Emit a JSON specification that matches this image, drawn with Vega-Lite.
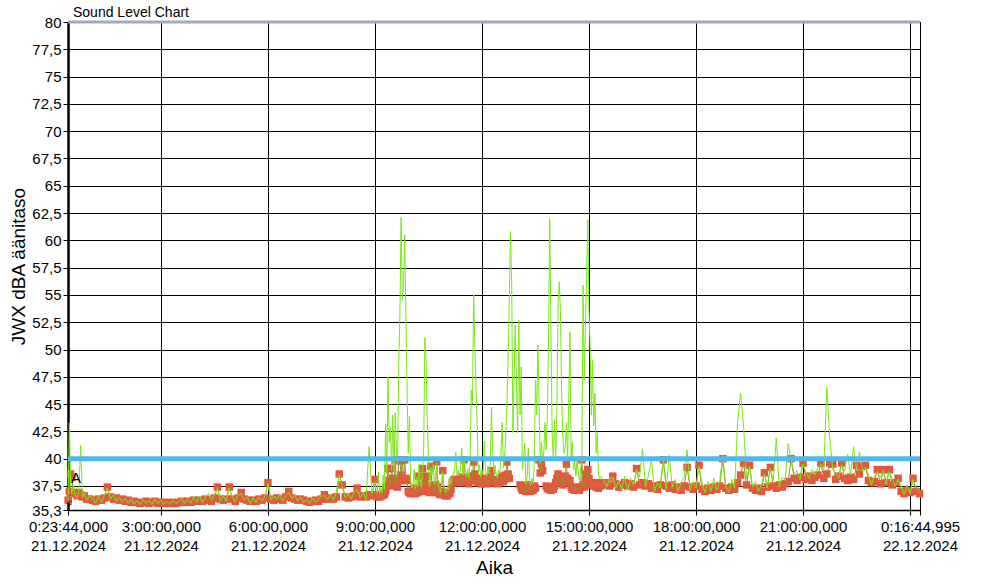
{
  "$schema": "https://vega.github.io/schema/vega-lite/v6.json",
  "width": 852,
  "height": 488,
  "autosize": {"type": "none"},
  "padding": {"left": 68, "top": 22, "right": 70, "bottom": 78},
  "background": "#ffffff",
  "title": {"text": "Sound Level Chart", "anchor": "start", "frame": "group", "dx": 5, "dy": 9, "offset": 4, "fontSize": 14, "font": "Liberation Sans", "fontWeight": "normal", "color": "#000"},
  "datasets": {
    "lv": [
      {"t":"2024-12-21T00:24","a":36.2,"m":36.2},
      {"t":"2024-12-21T00:26","a":37.0,"m":43.3},
      {"t":"2024-12-21T00:28","a":38.6,"m":38.0},
      {"t":"2024-12-21T00:30","a":38.3,"m":36.8},
      {"t":"2024-12-21T00:33","a":36.9,"m":37.6},
      {"t":"2024-12-21T00:36","a":36.8,"m":36.5},
      {"t":"2024-12-21T00:39","a":36.6,"m":36.4},
      {"t":"2024-12-21T00:42","a":36.9,"m":37.0},
      {"t":"2024-12-21T00:45","a":36.7,"m":41.2},
      {"t":"2024-12-21T00:48","a":36.5,"m":36.4},
      {"t":"2024-12-21T00:51","a":36.6,"m":36.9},
      {"t":"2024-12-21T00:55","a":36.3,"m":36.2},
      {"t":"2024-12-21T01:00","a":36.3,"m":36.6},
      {"t":"2024-12-21T01:05","a":36.2,"m":36.4},
      {"t":"2024-12-21T01:10","a":36.1,"m":35.9},
      {"t":"2024-12-21T01:15","a":36.3,"m":36.6},
      {"t":"2024-12-21T01:20","a":36.2,"m":36.0},
      {"t":"2024-12-21T01:25","a":36.4,"m":36.7},
      {"t":"2024-12-21T01:30","a":37.4,"m":37.3},
      {"t":"2024-12-21T01:35","a":36.5,"m":36.3},
      {"t":"2024-12-21T01:40","a":36.3,"m":36.7},
      {"t":"2024-12-21T01:45","a":36.4,"m":36.1},
      {"t":"2024-12-21T01:50","a":36.2,"m":36.5},
      {"t":"2024-12-21T01:55","a":36.3,"m":36.0},
      {"t":"2024-12-21T02:00","a":36.1,"m":36.4},
      {"t":"2024-12-21T02:05","a":36.2,"m":35.9},
      {"t":"2024-12-21T02:10","a":36.0,"m":36.3},
      {"t":"2024-12-21T02:15","a":36.1,"m":35.8},
      {"t":"2024-12-21T02:20","a":36.0,"m":36.2},
      {"t":"2024-12-21T02:25","a":35.9,"m":35.8},
      {"t":"2024-12-21T02:30","a":36.0,"m":36.3},
      {"t":"2024-12-21T02:35","a":36.1,"m":35.9},
      {"t":"2024-12-21T02:40","a":35.9,"m":36.2},
      {"t":"2024-12-21T02:45","a":36.0,"m":35.8},
      {"t":"2024-12-21T02:50","a":36.1,"m":36.3},
      {"t":"2024-12-21T02:55","a":35.9,"m":35.9},
      {"t":"2024-12-21T03:00","a":36.0,"m":36.2},
      {"t":"2024-12-21T03:05","a":35.9,"m":35.8},
      {"t":"2024-12-21T03:10","a":36.0,"m":36.1},
      {"t":"2024-12-21T03:15","a":35.9,"m":35.8},
      {"t":"2024-12-21T03:20","a":36.0,"m":36.2},
      {"t":"2024-12-21T03:25","a":35.9,"m":35.9},
      {"t":"2024-12-21T03:30","a":36.0,"m":36.1},
      {"t":"2024-12-21T03:35","a":36.1,"m":36.4},
      {"t":"2024-12-21T03:40","a":36.0,"m":35.9},
      {"t":"2024-12-21T03:45","a":36.1,"m":36.3},
      {"t":"2024-12-21T03:50","a":36.0,"m":35.9},
      {"t":"2024-12-21T03:55","a":36.2,"m":36.5},
      {"t":"2024-12-21T04:00","a":36.1,"m":36.0},
      {"t":"2024-12-21T04:05","a":36.2,"m":36.6},
      {"t":"2024-12-21T04:10","a":36.1,"m":36.0},
      {"t":"2024-12-21T04:15","a":36.3,"m":36.5},
      {"t":"2024-12-21T04:20","a":36.2,"m":36.8},
      {"t":"2024-12-21T04:25","a":36.1,"m":36.2},
      {"t":"2024-12-21T04:30","a":36.4,"m":36.7},
      {"t":"2024-12-21T04:35","a":37.4,"m":37.3},
      {"t":"2024-12-21T04:40","a":36.3,"m":36.1},
      {"t":"2024-12-21T04:45","a":36.2,"m":36.6},
      {"t":"2024-12-21T04:50","a":36.3,"m":36.1},
      {"t":"2024-12-21T04:55","a":37.4,"m":37.3},
      {"t":"2024-12-21T05:00","a":36.3,"m":36.5},
      {"t":"2024-12-21T05:05","a":36.1,"m":36.0},
      {"t":"2024-12-21T05:10","a":36.4,"m":36.7},
      {"t":"2024-12-21T05:15","a":36.9,"m":36.8},
      {"t":"2024-12-21T05:20","a":36.3,"m":36.2},
      {"t":"2024-12-21T05:25","a":36.2,"m":36.5},
      {"t":"2024-12-21T05:30","a":36.1,"m":35.9},
      {"t":"2024-12-21T05:35","a":36.2,"m":36.4},
      {"t":"2024-12-21T05:40","a":36.1,"m":36.0},
      {"t":"2024-12-21T05:45","a":36.3,"m":36.5},
      {"t":"2024-12-21T05:50","a":36.2,"m":36.1},
      {"t":"2024-12-21T05:55","a":36.4,"m":36.6},
      {"t":"2024-12-21T06:00","a":37.8,"m":37.7},
      {"t":"2024-12-21T06:05","a":36.3,"m":36.2},
      {"t":"2024-12-21T06:10","a":36.2,"m":36.6},
      {"t":"2024-12-21T06:15","a":36.4,"m":36.3},
      {"t":"2024-12-21T06:20","a":36.3,"m":36.7},
      {"t":"2024-12-21T06:25","a":36.2,"m":36.1},
      {"t":"2024-12-21T06:30","a":36.5,"m":36.6},
      {"t":"2024-12-21T06:35","a":37.0,"m":36.9},
      {"t":"2024-12-21T06:40","a":36.4,"m":36.3},
      {"t":"2024-12-21T06:45","a":36.3,"m":36.7},
      {"t":"2024-12-21T06:50","a":36.2,"m":36.1},
      {"t":"2024-12-21T06:55","a":36.3,"m":36.5},
      {"t":"2024-12-21T07:00","a":36.2,"m":36.0},
      {"t":"2024-12-21T07:05","a":36.1,"m":36.3},
      {"t":"2024-12-21T07:10","a":36.0,"m":35.9},
      {"t":"2024-12-21T07:15","a":36.1,"m":36.4},
      {"t":"2024-12-21T07:20","a":36.2,"m":36.0},
      {"t":"2024-12-21T07:25","a":36.1,"m":36.3},
      {"t":"2024-12-21T07:30","a":36.3,"m":36.6},
      {"t":"2024-12-21T07:35","a":36.7,"m":36.6},
      {"t":"2024-12-21T07:40","a":36.3,"m":36.2},
      {"t":"2024-12-21T07:45","a":36.4,"m":36.8},
      {"t":"2024-12-21T07:50","a":36.3,"m":36.2},
      {"t":"2024-12-21T07:55","a":36.5,"m":36.9},
      {"t":"2024-12-21T08:00","a":38.6,"m":38.5},
      {"t":"2024-12-21T08:05","a":37.6,"m":37.4},
      {"t":"2024-12-21T08:10","a":36.5,"m":36.4},
      {"t":"2024-12-21T08:15","a":36.4,"m":36.8},
      {"t":"2024-12-21T08:20","a":36.5,"m":36.3},
      {"t":"2024-12-21T08:25","a":36.6,"m":36.9},
      {"t":"2024-12-21T08:30","a":37.3,"m":37.2},
      {"t":"2024-12-21T08:35","a":36.5,"m":36.4},
      {"t":"2024-12-21T08:40","a":36.6,"m":36.9},
      {"t":"2024-12-21T08:45","a":36.5,"m":36.3},
      {"t":"2024-12-21T08:50","a":36.7,"m":41.1},
      {"t":"2024-12-21T08:55","a":36.6,"m":36.8},
      {"t":"2024-12-21T09:00","a":38.1,"m":37.9},
      {"t":"2024-12-21T09:02","a":36.7,"m":37.0},
      {"t":"2024-12-21T09:04","a":36.5,"m":36.9},
      {"t":"2024-12-21T09:06","a":36.6,"m":38.8},
      {"t":"2024-12-21T09:08","a":36.5,"m":36.8},
      {"t":"2024-12-21T09:10","a":36.7,"m":37.3},
      {"t":"2024-12-21T09:12","a":36.6,"m":36.9},
      {"t":"2024-12-21T09:14","a":36.8,"m":38.5},
      {"t":"2024-12-21T09:16","a":36.7,"m":37.2},
      {"t":"2024-12-21T09:18","a":37.0,"m":43.2},
      {"t":"2024-12-21T09:20","a":37.5,"m":38.6},
      {"t":"2024-12-21T09:22","a":39.1,"m":47.5},
      {"t":"2024-12-21T09:24","a":38.0,"m":41.5},
      {"t":"2024-12-21T09:26","a":37.6,"m":42.9},
      {"t":"2024-12-21T09:28","a":39.1,"m":39.0},
      {"t":"2024-12-21T09:30","a":38.2,"m":44.0},
      {"t":"2024-12-21T09:32","a":37.5,"m":38.8},
      {"t":"2024-12-21T09:34","a":39.9,"m":44.2},
      {"t":"2024-12-21T09:36","a":38.0,"m":41.0},
      {"t":"2024-12-21T09:38","a":37.4,"m":39.5},
      {"t":"2024-12-21T09:40","a":39.9,"m":48.5},
      {"t":"2024-12-21T09:42","a":39.8,"m":53.3},
      {"t":"2024-12-21T09:44","a":38.5,"m":62.1},
      {"t":"2024-12-21T09:46","a":39.9,"m":54.5},
      {"t":"2024-12-21T09:48","a":38.0,"m":55.9},
      {"t":"2024-12-21T09:50","a":39.9,"m":60.5},
      {"t":"2024-12-21T09:52","a":38.2,"m":53.2},
      {"t":"2024-12-21T09:54","a":38.0,"m":46.6},
      {"t":"2024-12-21T09:56","a":37.0,"m":40.5},
      {"t":"2024-12-21T09:58","a":36.9,"m":43.9},
      {"t":"2024-12-21T10:00","a":36.8,"m":38.0},
      {"t":"2024-12-21T10:02","a":37.0,"m":37.3},
      {"t":"2024-12-21T10:04","a":36.9,"m":37.6},
      {"t":"2024-12-21T10:06","a":37.3,"m":39.0},
      {"t":"2024-12-21T10:08","a":36.8,"m":37.2},
      {"t":"2024-12-21T10:10","a":37.2,"m":38.3},
      {"t":"2024-12-21T10:12","a":36.9,"m":37.4},
      {"t":"2024-12-21T10:14","a":38.4,"m":39.5},
      {"t":"2024-12-21T10:16","a":37.1,"m":38.0},
      {"t":"2024-12-21T10:18","a":37.0,"m":37.4},
      {"t":"2024-12-21T10:20","a":39.1,"m":39.0},
      {"t":"2024-12-21T10:22","a":37.5,"m":41.0},
      {"t":"2024-12-21T10:24","a":37.8,"m":51.1},
      {"t":"2024-12-21T10:26","a":38.4,"m":49.0},
      {"t":"2024-12-21T10:28","a":37.2,"m":43.5},
      {"t":"2024-12-21T10:30","a":37.0,"m":40.2},
      {"t":"2024-12-21T10:32","a":36.9,"m":37.4},
      {"t":"2024-12-21T10:34","a":39.3,"m":39.2},
      {"t":"2024-12-21T10:36","a":37.5,"m":38.5},
      {"t":"2024-12-21T10:38","a":37.1,"m":39.5},
      {"t":"2024-12-21T10:40","a":36.9,"m":37.6},
      {"t":"2024-12-21T10:42","a":37.6,"m":38.2},
      {"t":"2024-12-21T10:44","a":39.7,"m":39.6},
      {"t":"2024-12-21T10:46","a":37.4,"m":37.9},
      {"t":"2024-12-21T10:48","a":36.8,"m":37.2},
      {"t":"2024-12-21T10:50","a":36.7,"m":36.9},
      {"t":"2024-12-21T10:52","a":37.0,"m":37.6},
      {"t":"2024-12-21T10:54","a":38.9,"m":38.8},
      {"t":"2024-12-21T10:56","a":36.8,"m":37.3},
      {"t":"2024-12-21T10:58","a":36.6,"m":37.0},
      {"t":"2024-12-21T11:00","a":36.7,"m":36.9},
      {"t":"2024-12-21T11:02","a":36.6,"m":37.3},
      {"t":"2024-12-21T11:04","a":36.9,"m":37.1},
      {"t":"2024-12-21T11:06","a":36.8,"m":38.3},
      {"t":"2024-12-21T11:08","a":37.2,"m":37.6},
      {"t":"2024-12-21T11:10","a":37.8,"m":38.4},
      {"t":"2024-12-21T11:12","a":38.0,"m":38.6},
      {"t":"2024-12-21T11:14","a":38.1,"m":39.2},
      {"t":"2024-12-21T11:16","a":37.9,"m":40.6},
      {"t":"2024-12-21T11:18","a":38.0,"m":38.5},
      {"t":"2024-12-21T11:20","a":37.8,"m":38.9},
      {"t":"2024-12-21T11:22","a":38.1,"m":38.4},
      {"t":"2024-12-21T11:24","a":37.9,"m":39.0},
      {"t":"2024-12-21T11:26","a":38.3,"m":41.0},
      {"t":"2024-12-21T11:28","a":37.8,"m":38.5},
      {"t":"2024-12-21T11:30","a":39.9,"m":39.8},
      {"t":"2024-12-21T11:32","a":38.2,"m":38.9},
      {"t":"2024-12-21T11:34","a":37.9,"m":38.3},
      {"t":"2024-12-21T11:36","a":38.0,"m":39.1},
      {"t":"2024-12-21T11:38","a":37.7,"m":38.2},
      {"t":"2024-12-21T11:40","a":38.3,"m":39.5},
      {"t":"2024-12-21T11:42","a":38.0,"m":46.3},
      {"t":"2024-12-21T11:44","a":38.4,"m":45.0},
      {"t":"2024-12-21T11:46","a":39.7,"m":55.0},
      {"t":"2024-12-21T11:48","a":38.6,"m":50.2},
      {"t":"2024-12-21T11:50","a":38.1,"m":46.5},
      {"t":"2024-12-21T11:52","a":37.9,"m":43.0},
      {"t":"2024-12-21T11:54","a":37.8,"m":38.6},
      {"t":"2024-12-21T11:56","a":38.2,"m":39.4},
      {"t":"2024-12-21T11:58","a":37.7,"m":38.3},
      {"t":"2024-12-21T12:00","a":38.0,"m":39.0},
      {"t":"2024-12-21T12:02","a":37.8,"m":38.5},
      {"t":"2024-12-21T12:04","a":38.2,"m":41.6},
      {"t":"2024-12-21T12:06","a":37.9,"m":38.8},
      {"t":"2024-12-21T12:08","a":37.7,"m":38.4},
      {"t":"2024-12-21T12:10","a":38.1,"m":39.3},
      {"t":"2024-12-21T12:12","a":37.8,"m":38.6},
      {"t":"2024-12-21T12:14","a":38.3,"m":39.6},
      {"t":"2024-12-21T12:16","a":38.9,"m":44.7},
      {"t":"2024-12-21T12:18","a":38.0,"m":40.8},
      {"t":"2024-12-21T12:20","a":37.8,"m":38.7},
      {"t":"2024-12-21T12:22","a":38.1,"m":39.4},
      {"t":"2024-12-21T12:24","a":37.9,"m":38.5},
      {"t":"2024-12-21T12:26","a":37.7,"m":38.2},
      {"t":"2024-12-21T12:28","a":38.0,"m":39.0},
      {"t":"2024-12-21T12:30","a":37.8,"m":38.6},
      {"t":"2024-12-21T12:32","a":38.2,"m":40.5},
      {"t":"2024-12-21T12:34","a":38.4,"m":43.3},
      {"t":"2024-12-21T12:36","a":37.9,"m":39.2},
      {"t":"2024-12-21T12:38","a":38.1,"m":40.2},
      {"t":"2024-12-21T12:40","a":38.5,"m":42.0},
      {"t":"2024-12-21T12:42","a":39.7,"m":45.0},
      {"t":"2024-12-21T12:44","a":38.6,"m":49.2},
      {"t":"2024-12-21T12:46","a":38.2,"m":55.0},
      {"t":"2024-12-21T12:48","a":null,"m":60.8},
      {"t":"2024-12-21T12:50","a":null,"m":56.1},
      {"t":"2024-12-21T12:52","a":null,"m":42.4},
      {"t":"2024-12-21T12:54","a":null,"m":47.5},
      {"t":"2024-12-21T12:56","a":null,"m":52.2},
      {"t":"2024-12-21T12:58","a":null,"m":47.0},
      {"t":"2024-12-21T13:00","a":null,"m":42.4},
      {"t":"2024-12-21T13:02","a":null,"m":52.7},
      {"t":"2024-12-21T13:04","a":37.6,"m":44.0},
      {"t":"2024-12-21T13:06","a":37.3,"m":48.4},
      {"t":"2024-12-21T13:08","a":37.1,"m":39.0},
      {"t":"2024-12-21T13:10","a":37.5,"m":40.0},
      {"t":"2024-12-21T13:12","a":37.2,"m":41.4},
      {"t":"2024-12-21T13:14","a":37.0,"m":37.6},
      {"t":"2024-12-21T13:16","a":37.4,"m":38.4},
      {"t":"2024-12-21T13:18","a":37.6,"m":41.0},
      {"t":"2024-12-21T13:20","a":37.2,"m":37.9},
      {"t":"2024-12-21T13:22","a":37.0,"m":37.5},
      {"t":"2024-12-21T13:24","a":37.3,"m":38.2},
      {"t":"2024-12-21T13:26","a":37.1,"m":37.7},
      {"t":"2024-12-21T13:28","a":37.5,"m":39.5},
      {"t":"2024-12-21T13:30","a":37.3,"m":47.2},
      {"t":"2024-12-21T13:32","a":null,"m":44.0},
      {"t":"2024-12-21T13:34","a":null,"m":50.4},
      {"t":"2024-12-21T13:36","a":39.9,"m":45.3},
      {"t":"2024-12-21T13:38","a":38.7,"m":39.5},
      {"t":"2024-12-21T13:40","a":39.5,"m":41.5},
      {"t":"2024-12-21T13:42","a":38.9,"m":39.8},
      {"t":"2024-12-21T13:44","a":null,"m":40.6},
      {"t":"2024-12-21T13:46","a":null,"m":43.3},
      {"t":"2024-12-21T13:48","a":37.5,"m":40.8},
      {"t":"2024-12-21T13:50","a":37.3,"m":44.2},
      {"t":"2024-12-21T13:52","a":37.2,"m":50.7},
      {"t":"2024-12-21T13:54","a":37.4,"m":62.0},
      {"t":"2024-12-21T13:56","a":37.1,"m":51.8},
      {"t":"2024-12-21T13:58","a":37.3,"m":42.4},
      {"t":"2024-12-21T14:00","a":37.2,"m":40.0},
      {"t":"2024-12-21T14:02","a":37.5,"m":43.5},
      {"t":"2024-12-21T14:04","a":37.8,"m":39.8},
      {"t":"2024-12-21T14:06","a":38.2,"m":44.7},
      {"t":"2024-12-21T14:08","a":38.6,"m":54.3},
      {"t":"2024-12-21T14:10","a":38.0,"m":56.2},
      {"t":"2024-12-21T14:12","a":37.8,"m":53.5},
      {"t":"2024-12-21T14:14","a":38.3,"m":46.0},
      {"t":"2024-12-21T14:16","a":37.6,"m":42.0},
      {"t":"2024-12-21T14:18","a":38.1,"m":40.5},
      {"t":"2024-12-21T14:20","a":38.4,"m":41.0},
      {"t":"2024-12-21T14:22","a":39.5,"m":43.3},
      {"t":"2024-12-21T14:24","a":38.2,"m":40.0},
      {"t":"2024-12-21T14:26","a":37.8,"m":45.4},
      {"t":"2024-12-21T14:28","a":38.0,"m":51.6},
      {"t":"2024-12-21T14:30","a":37.4,"m":40.0},
      {"t":"2024-12-21T14:32","a":37.2,"m":41.5},
      {"t":"2024-12-21T14:34","a":37.3,"m":39.0},
      {"t":"2024-12-21T14:36","a":37.1,"m":39.8},
      {"t":"2024-12-21T14:38","a":37.4,"m":38.4},
      {"t":"2024-12-21T14:40","a":37.2,"m":40.0},
      {"t":"2024-12-21T14:42","a":37.3,"m":38.6},
      {"t":"2024-12-21T14:44","a":37.1,"m":38.0},
      {"t":"2024-12-21T14:46","a":37.4,"m":39.0},
      {"t":"2024-12-21T14:48","a":39.9,"m":40.0},
      {"t":"2024-12-21T14:50","a":37.6,"m":55.9},
      {"t":"2024-12-21T14:52","a":37.4,"m":47.2},
      {"t":"2024-12-21T14:54","a":38.0,"m":52.0},
      {"t":"2024-12-21T14:56","a":38.6,"m":56.6},
      {"t":"2024-12-21T14:58","a":39.0,"m":61.9},
      {"t":"2024-12-21T15:00","a":38.2,"m":53.7},
      {"t":"2024-12-21T15:02","a":37.8,"m":50.0},
      {"t":"2024-12-21T15:04","a":37.6,"m":44.0},
      {"t":"2024-12-21T15:06","a":37.8,"m":49.0},
      {"t":"2024-12-21T15:08","a":37.5,"m":43.0},
      {"t":"2024-12-21T15:10","a":37.7,"m":46.0},
      {"t":"2024-12-21T15:12","a":37.4,"m":40.5},
      {"t":"2024-12-21T15:14","a":37.6,"m":42.4},
      {"t":"2024-12-21T15:16","a":37.3,"m":38.6},
      {"t":"2024-12-21T15:18","a":37.8,"m":38.2},
      {"t":"2024-12-21T15:20","a":37.5,"m":38.4},
      {"t":"2024-12-21T15:25","a":37.6,"m":38.0},
      {"t":"2024-12-21T15:30","a":37.8,"m":37.4},
      {"t":"2024-12-21T15:35","a":37.5,"m":38.2},
      {"t":"2024-12-21T15:40","a":38.4,"m":38.3},
      {"t":"2024-12-21T15:45","a":37.7,"m":37.3},
      {"t":"2024-12-21T15:50","a":37.4,"m":38.0},
      {"t":"2024-12-21T15:55","a":37.6,"m":37.2},
      {"t":"2024-12-21T16:00","a":37.8,"m":38.4},
      {"t":"2024-12-21T16:05","a":37.5,"m":37.1},
      {"t":"2024-12-21T16:10","a":37.7,"m":38.2},
      {"t":"2024-12-21T16:15","a":37.4,"m":37.6},
      {"t":"2024-12-21T16:20","a":39.1,"m":39.0},
      {"t":"2024-12-21T16:25","a":37.6,"m":38.3},
      {"t":"2024-12-21T16:30","a":37.8,"m":40.9},
      {"t":"2024-12-21T16:35","a":37.5,"m":37.4},
      {"t":"2024-12-21T16:40","a":37.7,"m":38.5},
      {"t":"2024-12-21T16:45","a":37.3,"m":39.9},
      {"t":"2024-12-21T16:50","a":37.5,"m":37.0},
      {"t":"2024-12-21T16:55","a":37.2,"m":37.8},
      {"t":"2024-12-21T17:00","a":37.6,"m":37.3},
      {"t":"2024-12-21T17:05","a":39.9,"m":39.8},
      {"t":"2024-12-21T17:10","a":37.5,"m":37.2},
      {"t":"2024-12-21T17:15","a":37.3,"m":40.3},
      {"t":"2024-12-21T17:20","a":37.6,"m":37.4},
      {"t":"2024-12-21T17:25","a":37.2,"m":38.1},
      {"t":"2024-12-21T17:30","a":37.4,"m":37.0},
      {"t":"2024-12-21T17:35","a":37.1,"m":37.8},
      {"t":"2024-12-21T17:40","a":37.5,"m":38.3},
      {"t":"2024-12-21T17:45","a":39.2,"m":40.8},
      {"t":"2024-12-21T17:50","a":37.4,"m":37.1},
      {"t":"2024-12-21T17:55","a":37.2,"m":37.9},
      {"t":"2024-12-21T18:00","a":37.5,"m":37.3},
      {"t":"2024-12-21T18:05","a":39.4,"m":39.3},
      {"t":"2024-12-21T18:10","a":37.2,"m":37.8},
      {"t":"2024-12-21T18:15","a":37.0,"m":36.9},
      {"t":"2024-12-21T18:20","a":37.3,"m":37.9},
      {"t":"2024-12-21T18:25","a":37.1,"m":37.0},
      {"t":"2024-12-21T18:30","a":37.4,"m":38.2},
      {"t":"2024-12-21T18:35","a":37.2,"m":37.1},
      {"t":"2024-12-21T18:40","a":37.5,"m":38.0},
      {"t":"2024-12-21T18:45","a":40.0,"m":40.3},
      {"t":"2024-12-21T18:50","a":37.3,"m":37.5},
      {"t":"2024-12-21T18:55","a":37.1,"m":36.9},
      {"t":"2024-12-21T19:00","a":37.4,"m":38.1},
      {"t":"2024-12-21T19:05","a":37.2,"m":37.3},
      {"t":"2024-12-21T19:10","a":37.8,"m":43.4},
      {"t":"2024-12-21T19:15","a":38.5,"m":46.0},
      {"t":"2024-12-21T19:20","a":39.6,"m":43.0},
      {"t":"2024-12-21T19:25","a":37.6,"m":38.2},
      {"t":"2024-12-21T19:30","a":39.4,"m":39.3},
      {"t":"2024-12-21T19:35","a":37.3,"m":37.4},
      {"t":"2024-12-21T19:40","a":37.1,"m":37.9},
      {"t":"2024-12-21T19:45","a":37.3,"m":37.0},
      {"t":"2024-12-21T19:50","a":37.0,"m":37.6},
      {"t":"2024-12-21T19:55","a":38.7,"m":38.6},
      {"t":"2024-12-21T20:00","a":37.4,"m":37.3},
      {"t":"2024-12-21T20:05","a":39.2,"m":39.1},
      {"t":"2024-12-21T20:10","a":37.5,"m":38.0},
      {"t":"2024-12-21T20:15","a":37.3,"m":41.9},
      {"t":"2024-12-21T20:20","a":37.6,"m":37.4},
      {"t":"2024-12-21T20:25","a":37.4,"m":38.3},
      {"t":"2024-12-21T20:30","a":37.7,"m":38.0},
      {"t":"2024-12-21T20:35","a":37.9,"m":41.4},
      {"t":"2024-12-21T20:40","a":40.0,"m":39.9},
      {"t":"2024-12-21T20:45","a":38.2,"m":38.6},
      {"t":"2024-12-21T20:50","a":38.0,"m":38.9},
      {"t":"2024-12-21T20:55","a":38.3,"m":38.1},
      {"t":"2024-12-21T21:00","a":39.6,"m":39.5},
      {"t":"2024-12-21T21:05","a":38.1,"m":38.8},
      {"t":"2024-12-21T21:10","a":38.4,"m":38.2},
      {"t":"2024-12-21T21:15","a":38.0,"m":39.0},
      {"t":"2024-12-21T21:20","a":38.3,"m":38.5},
      {"t":"2024-12-21T21:25","a":38.5,"m":39.2},
      {"t":"2024-12-21T21:30","a":39.6,"m":39.5},
      {"t":"2024-12-21T21:35","a":38.2,"m":39.0},
      {"t":"2024-12-21T21:40","a":38.6,"m":46.5},
      {"t":"2024-12-21T21:45","a":39.6,"m":41.9},
      {"t":"2024-12-21T21:50","a":39.5,"m":39.0},
      {"t":"2024-12-21T21:55","a":38.1,"m":38.7},
      {"t":"2024-12-21T22:00","a":38.4,"m":38.2},
      {"t":"2024-12-21T22:05","a":39.6,"m":39.4},
      {"t":"2024-12-21T22:10","a":38.2,"m":38.9},
      {"t":"2024-12-21T22:15","a":38.0,"m":40.4},
      {"t":"2024-12-21T22:20","a":38.3,"m":38.5},
      {"t":"2024-12-21T22:25","a":38.1,"m":41.1},
      {"t":"2024-12-21T22:30","a":39.4,"m":39.0},
      {"t":"2024-12-21T22:35","a":38.6,"m":40.6},
      {"t":"2024-12-21T22:40","a":39.3,"m":38.9},
      {"t":"2024-12-21T22:45","a":39.4,"m":39.2},
      {"t":"2024-12-21T22:50","a":38.0,"m":38.6},
      {"t":"2024-12-21T22:55","a":37.8,"m":37.6},
      {"t":"2024-12-21T23:00","a":37.9,"m":38.4},
      {"t":"2024-12-21T23:05","a":39.0,"m":38.8},
      {"t":"2024-12-21T23:10","a":37.7,"m":38.3},
      {"t":"2024-12-21T23:15","a":39.0,"m":38.9},
      {"t":"2024-12-21T23:20","a":37.8,"m":37.6},
      {"t":"2024-12-21T23:25","a":39.0,"m":38.8},
      {"t":"2024-12-21T23:30","a":37.6,"m":38.2},
      {"t":"2024-12-21T23:35","a":37.8,"m":37.5},
      {"t":"2024-12-21T23:40","a":38.2,"m":38.1},
      {"t":"2024-12-21T23:45","a":37.0,"m":37.5},
      {"t":"2024-12-21T23:50","a":36.8,"m":36.7},
      {"t":"2024-12-21T23:55","a":37.1,"m":37.6},
      {"t":"2024-12-22T00:00","a":36.9,"m":36.8},
      {"t":"2024-12-22T00:05","a":38.2,"m":38.1},
      {"t":"2024-12-22T00:10","a":37.0,"m":37.4},
      {"t":"2024-12-22T00:16","a":36.8,"m":36.9}
    ]
  },
  "layer": [
    {
      "data": {"name": "lv"},
      "mark": {"type": "point", "shape": "square", "filled": true, "size": 56, "color": "#e8553f", "opacity": 1},
      "encoding": {
        "x": {
          "field": "t", "type": "temporal", "title": "Aika",
          "scale": {"domain": [
            {"year": 2024, "month": 12, "date": 21, "hours": 0, "minutes": 23, "seconds": 44},
            {"year": 2024, "month": 12, "date": 22, "hours": 0, "minutes": 16, "seconds": 44, "milliseconds": 995}
          ]},
          "axis": {
            "values": [
              {"year": 2024, "month": 12, "date": 21, "hours": 0, "minutes": 23, "seconds": 44},
              {"year": 2024, "month": 12, "date": 21, "hours": 3},
              {"year": 2024, "month": 12, "date": 21, "hours": 6},
              {"year": 2024, "month": 12, "date": 21, "hours": 9},
              {"year": 2024, "month": 12, "date": 21, "hours": 12},
              {"year": 2024, "month": 12, "date": 21, "hours": 15},
              {"year": 2024, "month": 12, "date": 21, "hours": 18},
              {"year": 2024, "month": 12, "date": 21, "hours": 21},
              {"year": 2024, "month": 12, "date": 22, "hours": 0},
              {"year": 2024, "month": 12, "date": 22, "hours": 0, "minutes": 16, "seconds": 44, "milliseconds": 995}
            ],
            "tickCount": 40,
            "labelExpr": "(hours(datum.value) == 0 && minutes(datum.value) == 0) ? '' : [timeFormat(datum.value, '%-H:%M:%S,%L'), timeFormat(datum.value, '%d.%m.%Y')]",
            "labelOverlap": false,
            "labelFlush": false,
            "labelBound": false,
            "labelLineHeight": 19,
            "labelPadding": 4,
            "labelBaseline": "top",
            "grid": true,
            "domainWidth": 1.5,
            "titleY": 63,
            "titleBaseline": "alphabetic"
          }
        },
        "y": {
          "field": "a", "type": "quantitative", "title": "JWX dBA äänitaso",
          "scale": {"domain": [35.3, 80], "nice": false, "zero": false},
          "axis": {
            "values": [35.3, 37.5, 40, 42.5, 45, 47.5, 50, 52.5, 55, 57.5, 60, 62.5, 65, 67.5, 70, 72.5, 75, 77.5, 80],
            "tickCount": 60,
            "format": ".1~f",
            "labelExpr": "replace(datum.label, '.', ',')",
            "labelOverlap": false,
            "grid": true,
            "domainWidth": 2.5,
            "labelPadding": 2,
            "titleX": -50,
            "titleY": 244,
            "titleAngle": 270,
            "titleAlign": "center",
            "titleBaseline": "middle"
          }
        }
      }
    },
    {
      "data": {"name": "lv"},
      "mark": {"type": "line", "color": "#a08c2c", "strokeWidth": 1},
      "encoding": {
        "x": {"field": "t", "type": "temporal"},
        "y": {"field": "a", "type": "quantitative", "title": "JWX dBA äänitaso"}
      }
    },
    {
      "data": {"name": "lv"},
      "mark": {"type": "line", "color": "#7ae814", "strokeWidth": 1},
      "encoding": {
        "x": {"field": "t", "type": "temporal"},
        "y": {"field": "m", "type": "quantitative", "title": "JWX dBA äänitaso"}
      }
    },
    {
      "data": {"values": [{"lim": 40}]},
      "mark": {"type": "rule", "color": "#4cbaec", "strokeWidth": 5},
      "encoding": {"y": {"field": "lim", "type": "quantitative", "title": "JWX dBA äänitaso"}}
    },
    {
      "data": {"values": [{"lim": 80}]},
      "mark": {"type": "rule", "color": "#a2aac2", "strokeWidth": 3},
      "encoding": {"y": {"field": "lim", "type": "quantitative", "title": "JWX dBA äänitaso"}}
    },
    {
      "data": {"values": [{"t": "2024-12-21T00:37", "v": 38.2, "s": "A"}, {"t": "2024-12-21T00:26", "v": 35.9, "s": "<"}]},
      "mark": {"type": "text", "font": "Liberation Sans", "color": "#000", "baseline": "middle"},
      "encoding": {
        "x": {"field": "t", "type": "temporal"},
        "y": {"field": "v", "type": "quantitative", "title": "JWX dBA äänitaso"},
        "text": {"field": "s"},
        "size": {"condition": {"test": "datum.s == 'A'", "value": 15}, "value": 9}
      }
    }
  ],
  "config": {
    "view": {"stroke": "#000", "strokeWidth": 1},
    "axis": {
      "labelFont": "Liberation Sans",
      "titleFont": "Liberation Sans",
      "labelFontSize": 15,
      "titleFontSize": 19,
      "labelColor": "#000",
      "titleColor": "#000",
      "titleFontWeight": "normal",
      "gridColor": "#000",
      "gridOpacity": 1,
      "gridWidth": 1,
      "domainColor": "#000",
      "tickColor": "#000",
      "tickSize": 5
    }
  }
}
